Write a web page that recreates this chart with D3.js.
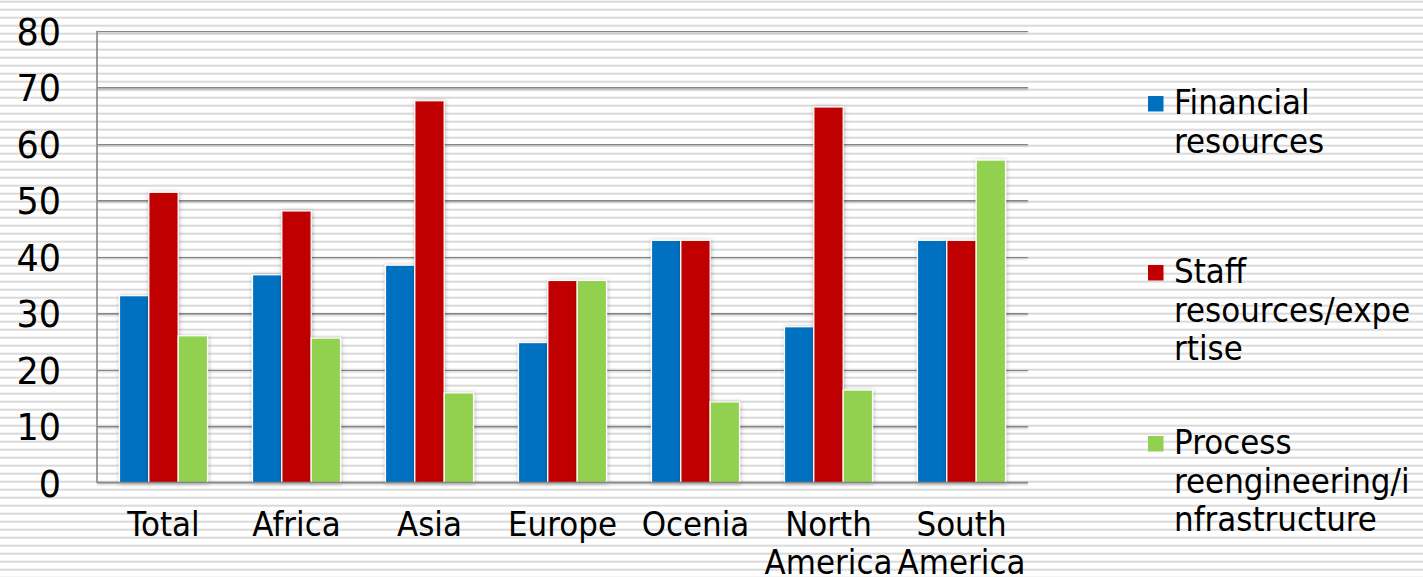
<!DOCTYPE html>
<html>
<head>
<meta charset="utf-8">
<script src="https://cdn.jsdelivr.net/npm/d3@7/dist/d3.min.js"></script>
<style>
  html, body { margin: 0; padding: 0; background: #fff; }
  svg { display: block; }
  text { font-family: "DejaVu Sans", Verdana, sans-serif; fill: #000; }
</style>
</head>
<body>
<svg id="chart" width="1423" height="577"></svg>
<script>
// Survey results by region (percent of respondents)
const categories = ["Total", "Africa", "Asia", "Europe", "Ocenia", "North America", "South America"];
const seriesNames = ["Financial resources", "Staff resources/expertise", "Process reengineering/infrastructure"];
const financial = [33.1, 36.8, 38.5, 24.8, 42.9, 27.6, 42.9];
const staff     = [51.4, 48.1, 67.6, 35.8, 42.9, 66.5, 42.9];
const process   = [26.0, 25.6, 15.9, 35.8, 14.3, 16.4, 57.1];
const yTicks = [0, 10, 20, 30, 40, 50, 60, 70, 80];
const colors = ["#0070c0", "#c00000", "#92d050"];

const W = 1423, H = 577;
const svg = d3.select("#chart");
const STRETCH = 1.08; // text is drawn slightly taller than wide

// striped page background
const defs = svg.append("defs");
const pat = defs.append("pattern").attr("id", "stripes")
  .attr("patternUnits", "userSpaceOnUse").attr("width", 8).attr("height", 8);
pat.append("rect").attr("width", 8).attr("height", 8).attr("fill", "#fff");
pat.append("rect").attr("y", 0.7).attr("width", 8).attr("height", 2).attr("fill", "#dadada");
svg.append("rect").attr("width", W).attr("height", H).attr("fill", "url(#stripes)");

const shadow = defs.append("filter").attr("id", "shadow")
  .attr("x", "-30%").attr("y", "-10%").attr("width", "160%").attr("height", "120%");
shadow.append("feDropShadow").attr("dx", 0.5).attr("dy", 0.5).attr("stdDeviation", 2)
  .attr("flood-color", "#000").attr("flood-opacity", 0.28);

// lines have a zero-height bounding box, so their filter region is in user space
const lineShadow = defs.append("filter").attr("id", "lineShadow")
  .attr("filterUnits", "userSpaceOnUse")
  .attr("x", 0).attr("y", 0).attr("width", W).attr("height", H);
lineShadow.append("feDropShadow").attr("dx", 0).attr("dy", 1).attr("stdDeviation", 0.8)
  .attr("flood-color", "#000").attr("flood-opacity", 0.25);

const plot = { left: 97, right: 1028, top: 30.7, bottom: 482.7 };

const x = d3.scaleBand().domain(categories).range([plot.left, plot.right]).paddingInner(0).paddingOuter(0);
const groupPad = 22.5;
const xs = d3.scaleBand().domain(d3.range(seriesNames.length))
  .range([groupPad, x.bandwidth() - groupPad]).padding(0);
const y = d3.scaleLinear().domain([0, 80]).range([plot.bottom, plot.top]);

// horizontal gridlines
const gridAxis = d3.axisLeft(y).tickValues(yTicks.filter(v => v > 0))
  .tickSize(-(plot.right - plot.left)).tickFormat("");
const grid = svg.append("g").attr("transform", `translate(${plot.left},0)`).call(gridAxis);
grid.select(".domain").remove();
grid.selectAll("line").attr("stroke", "#868686").attr("stroke-width", 1.6)
  .attr("filter", "url(#lineShadow)");

// left axis line
svg.append("line").attr("x1", plot.left).attr("x2", plot.left)
  .attr("y1", y(80)).attr("y2", y(0)).attr("stroke", "#868686").attr("stroke-width", 1.6);

// bars
const rows = categories.map((c, i) => ({ cat: c, vals: [financial[i], staff[i], process[i]] }));
const groups = svg.append("g").selectAll("g").data(rows).join("g")
  .attr("transform", d => `translate(${x(d.cat)},0)`);
groups.selectAll("rect").data(d => d.vals.map((v, k) => ({ v, k }))).join("rect")
  .attr("x", d => xs(d.k))
  .attr("width", xs.bandwidth())
  .attr("y", d => y(d.v))
  .attr("height", d => y(0) - y(d.v))
  .attr("fill", d => colors[d.k])
  .attr("stroke", "#fff").attr("stroke-width", 1.2)
  .attr("filter", "url(#shadow)");

// bottom axis line
svg.append("line").attr("x1", plot.left).attr("x2", plot.right)
  .attr("y1", y(0)).attr("y2", y(0)).attr("stroke", "#868686").attr("stroke-width", 1.8)
  .attr("filter", "url(#lineShadow)");

function stretchedText(parent, tx, ty, str, size, anchor) {
  return parent.append("text")
    .attr("transform", `translate(${tx},${ty}) scale(1,${STRETCH})`)
    .attr("font-size", size).attr("text-anchor", anchor).text(str);
}

// y tick labels
const yLab = svg.append("g");
yTicks.forEach(v => stretchedText(yLab, 61, y(v) + 14, String(v), 35, "end"));

// category labels (two-word names wrap onto two lines)
const xLab = svg.append("g");
categories.forEach(c => {
  const words = c.split(" ");
  words.forEach((w, i) => stretchedText(xLab, x(c) + x.bandwidth() / 2, 536 + i * 38, w, 31, "middle"));
});

// legend with text wrapped to a fixed width
const legendX = 1174, legendW = 248, legendFont = 31;
const legendBaselines = [114, 283, 454];
const measurer = svg.append("text").attr("font-size", legendFont).attr("visibility", "hidden");
function measure(s) { measurer.text(s); return measurer.node().getComputedTextLength(); }
function wrap(str, maxW) {
  const lines = [];
  let cur = "";
  str.split(" ").forEach(word => {
    const cand = cur ? cur + " " + word : word;
    if (measure(cand) <= maxW) { cur = cand; return; }
    if (cur) { lines.push(cur); cur = ""; }
    let rest = word;
    while (measure(rest) > maxW) {
      let n = rest.length;
      while (n > 1 && measure(rest.slice(0, n)) > maxW) n--;
      lines.push(rest.slice(0, n));
      rest = rest.slice(n);
    }
    cur = rest;
  });
  if (cur) lines.push(cur);
  return lines;
}
const legend = svg.append("g");
seriesNames.forEach((name, k) => {
  const b = legendBaselines[k];
  legend.append("rect").attr("x", 1148).attr("y", b - 18).attr("width", 15.5).attr("height", 15.5)
    .attr("fill", colors[k]);
  wrap(name, legendW).forEach((ln, i) => stretchedText(legend, legendX, b + i * 38.5, ln, legendFont, "start"));
});
measurer.remove();
</script>
</body>
</html>
